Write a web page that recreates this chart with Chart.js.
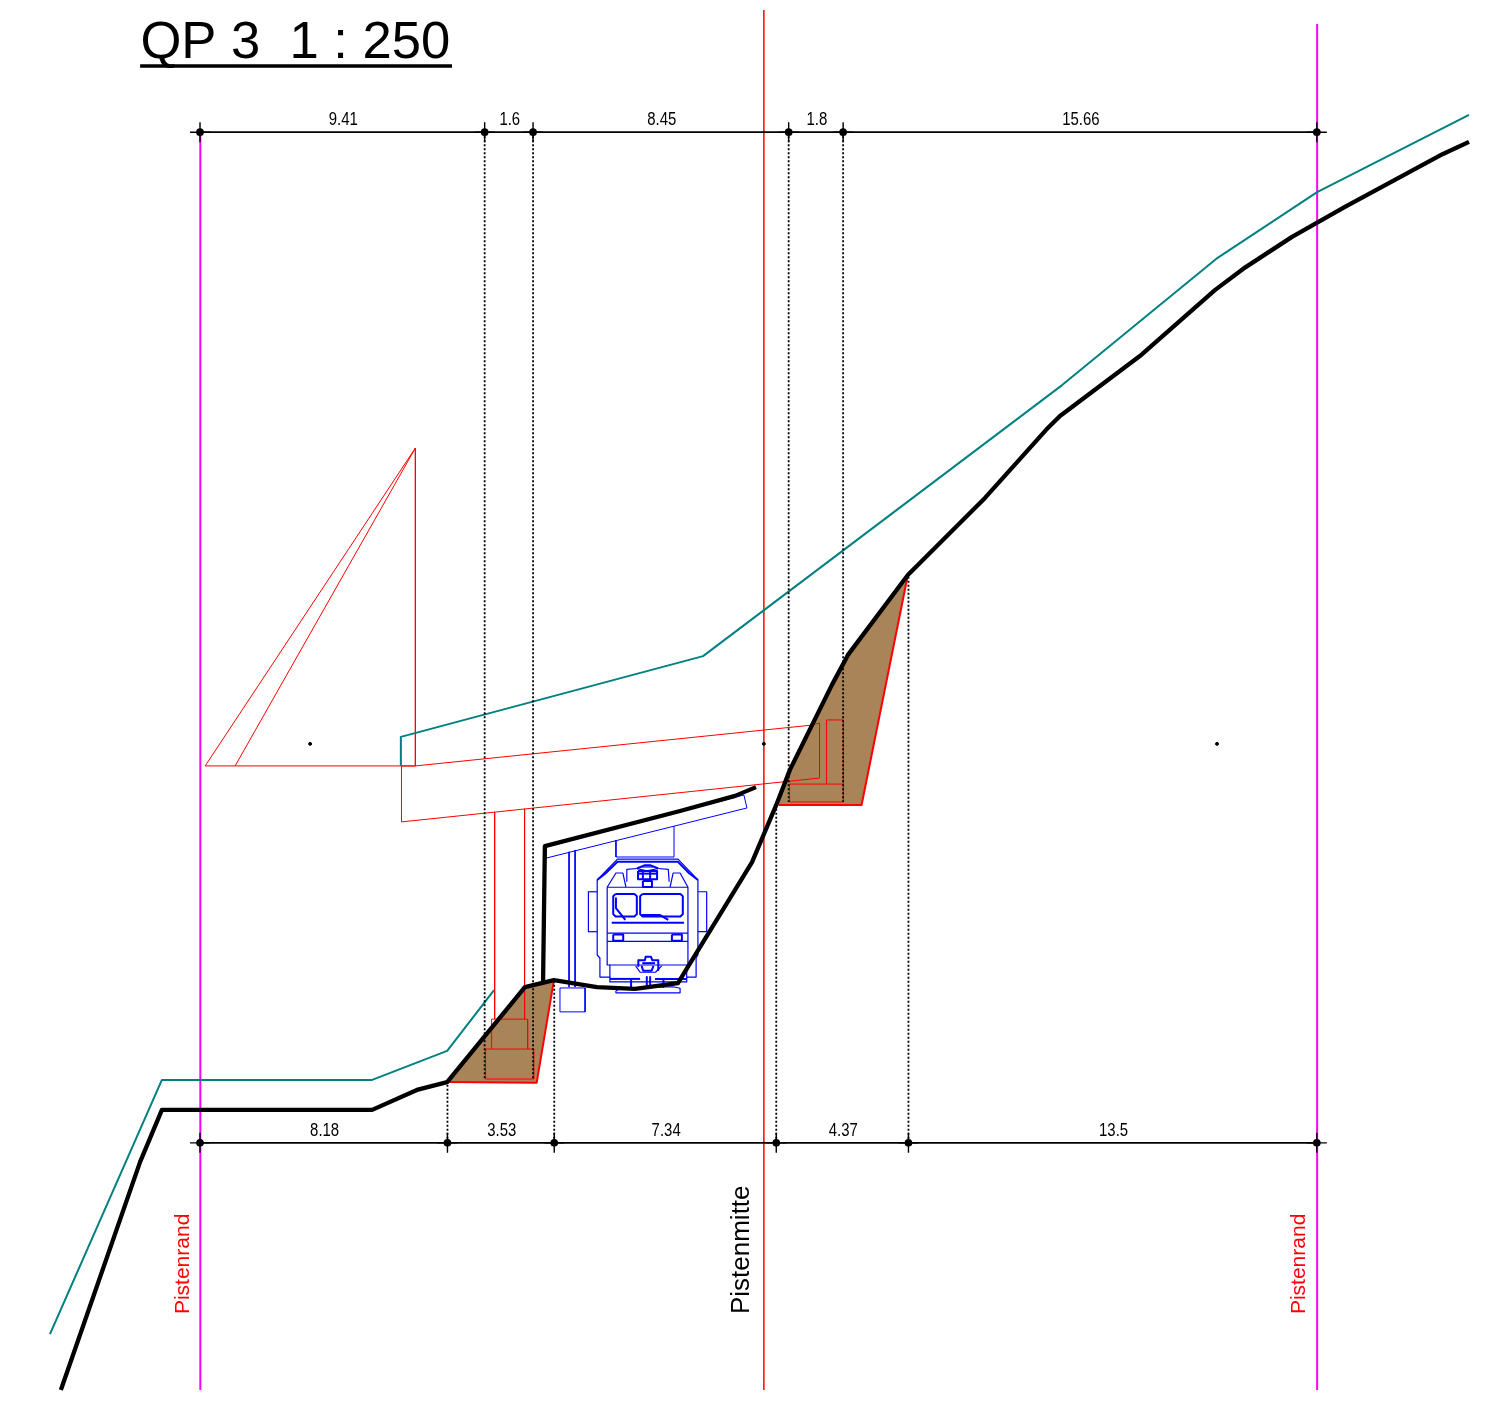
<!DOCTYPE html>
<html>
<head>
<meta charset="utf-8">
<title>QP 3</title>
<script src="https://cdn.jsdelivr.net/npm/chart.js@4/dist/chart.umd.min.js"></script>
<style>
  html, body { margin: 0; padding: 0; background: #fff; }
  canvas { display: block; }
</style>
</head>
<body>
<canvas id="profile" width="1497" height="1403"></canvas>
<script>
// all values in metres, x from left Pistenrand, y from lower edge of the section
const topDims = [9.41, 1.6, 8.45, 1.8, 15.66];
const bottomDims = [8.18, 3.53, 7.34, 4.37, 13.5];
const topDimLevel = 41.58;
const bottomDimLevel = 8.17;
// where the dotted drop lines end, one per inner dimension tick
const topDropEnds = [10.28, 10.28, 19.44, 19.44];
const bottomDropEnds = [10.18, 13.55, 19.34, 26.94];

const terrain = [[-4.60,0],[-1.98,7.54],[-1.26,9.26],[5.69,9.26],[7.17,9.92],[8.17,10.18],[10.74,13.32],[11.70,13.55],
  [13.12,13.32],[14.38,13.26],[15.80,13.45],[18.25,17.45],[19.05,19.34],[19.50,20.50],[20.89,23.31],[21.42,24.30],
  [23.40,26.94],[25.95,29.49],[27.97,31.74],[28.43,32.20],[31.07,34.18],[33.55,36.36],[34.48,37.06],[36.10,38.12],
  [37.85,39.11],[41.09,40.86],[41.95,41.26]];
const roofLine = [[11.34,13.42],[11.40,17.98],[15.87,19.14],[17.69,19.64],[18.38,19.93]];
const surfaceLower = [[-4.96,1.85],[-1.26,10.25],[5.69,10.25],[8.17,11.21],[9.72,13.22]];
const surfaceUpper = [[6.64,20.63],[6.64,21.59],[16.63,24.26],[28.50,33.22],[33.59,37.39],[36.93,39.60],[41.95,42.15]];

const fillLeft = [[8.17,10.18],[11.13,10.16],[11.70,13.55],[10.74,13.32],[8.17,10.18]];
const fillRight = [[19.13,19.34],[21.87,19.34],[23.40,26.94],[21.42,24.30],[20.89,23.31],[19.50,20.50],[19.13,19.34]];
const edgeLeft = [[8.17,10.18],[11.13,10.16],[11.70,13.55]];
const edgeRight = [[19.13,19.34],[21.87,19.34],[23.40,26.94]];

const redParts = [
  [[0.17,20.63],[7.12,31.14],[7.12,20.63],[0.17,20.63]],
  [[1.16,20.63],[7.12,31.14]],
  [[6.66,20.63],[7.12,20.63],[20.23,21.98],[20.48,22.05],[20.48,20.23],[6.66,18.78],[6.66,20.63]],
  [[9.74,19.11],[9.74,12.26]],
  [[10.73,19.21],[10.73,12.26]],
  [[9.64,11.27],[9.64,12.26],[10.83,12.26],[10.83,11.27]],
  [[9.44,11.27],[11.03,11.27],[11.03,10.28],[9.44,10.28],[9.44,11.27]],
  [[20.71,20.03],[20.71,22.15],[21.27,22.15],[21.27,19.44],[19.49,19.44],[19.49,20.03],[21.27,20.03]]
];

const galleryParts = [
  [[11.44,17.95],[17.98,19.67],[18.08,19.24],[11.47,17.59],[11.44,17.95]],
  [[13.75,18.18],[13.75,17.62],[15.67,17.62],[15.67,18.64]],
  [[12.20,17.79],[12.20,13.32]],
  [[12.40,17.85],[12.40,13.32]],
  [[11.90,13.29],[12.73,13.29],[12.73,12.50],[11.90,12.50],[11.90,13.29]]
];

const trainParts = [
  [[13.13,16.86],[13.80,17.55],[15.80,17.55],[16.46,16.86],[16.46,14.38],[16.40,14.28],[16.40,13.65],[16.09,13.65],
   [16.09,13.49],[13.55,13.49],[13.55,13.65],[13.22,13.65],[13.22,14.28],[13.13,14.38],[13.13,16.86]],
  [[12.84,16.47],[13.13,16.47]], [[12.84,15.15],[13.13,15.15]], [[12.84,16.47],[12.84,15.15]],
  [[16.46,16.47],[16.75,16.47],[16.75,15.15],[16.46,15.15]],
  [[13.46,16.62],[16.13,16.62],[16.13,14.05],[13.46,14.05],[13.46,16.62]],
  [[13.46,16.62],[13.75,17.09],[13.98,17.09],[14.08,16.62]],
  [[16.13,16.62],[15.87,17.09],[15.64,17.09],[15.54,16.62]],
  [[14.11,16.80],[14.11,17.21],[14.44,17.24]],
  [[15.15,17.24],[15.48,17.21],[15.51,16.80]],
  [[14.44,17.24],[14.77,17.16],[15.15,17.24]],
  [[14.60,17.29],[14.98,17.29]],
  [[13.46,15.10],[16.13,15.10]],
  [[13.46,14.83],[16.13,14.83]],
  [[13.55,14.05],[13.55,13.65]], [[16.09,14.05],[16.09,13.65]],
  [[14.40,14.02],[14.55,13.81],[15.06,13.81],[15.26,14.02]],
  [[13.75,13.20],[13.94,13.28],[15.64,13.33],[15.87,13.28],[15.87,13.13],[13.75,13.13],[13.75,13.20]]
];
// drawn heavier: roof edge, pantograph, window frames, wipers, coupler
const trainHeavy = [
  [[13.13,16.86],[13.41,17.08],[13.80,17.46],[15.80,17.46],[16.17,17.08],[16.46,16.86]],
  [[14.44,17.24],[14.71,17.35],[14.88,17.35],[15.15,17.24]],
  [[14.48,17.16],[15.11,17.16],[15.11,16.88],[14.48,16.88],[14.48,17.16]],
  [[14.48,17.07],[15.11,17.07]],
  [[14.64,17.16],[14.64,16.88]], [[14.88,17.16],[14.88,16.88]],
  [[14.64,16.83],[14.94,16.83],[14.94,16.63],[14.64,16.63],[14.64,16.83]],
  [[13.74,16.40],[14.36,16.40],[14.44,16.32],[14.44,15.73],[14.36,15.65],[13.74,15.65],[13.66,15.73],[13.66,16.32],[13.74,16.40]],
  [[14.63,16.40],[15.88,16.40],[15.96,16.32],[15.96,15.73],[15.88,15.65],[14.63,15.65],[14.55,15.73],[14.55,16.32],[14.63,16.40]],
  [[13.75,16.26],[13.75,15.93],[14.06,15.54]],
  [[14.60,15.70],[15.21,15.70],[15.48,15.54]],
  [[13.61,15.45],[16.00,15.45]],
  [[13.66,15.06],[13.99,15.06],[13.99,14.85],[13.66,14.85],[13.66,15.06]],
  [[15.60,15.06],[15.93,15.06],[15.93,14.85],[15.60,14.85],[15.60,15.06]],
  [[14.49,14.21],[14.71,14.21],[14.73,14.32],[14.91,14.32],[14.95,14.21],[15.15,14.21],[15.15,13.88]],
  [[14.49,14.21],[14.49,14.02]],
  [[14.62,14.11],[15.04,14.11]],
  [[14.60,14.02],[14.65,13.86],[14.93,13.86],[14.99,14.02]],
  [[13.55,13.59],[14.55,13.59]], [[15.04,13.59],[16.09,13.59]],
  [[14.25,13.59],[14.25,13.32]], [[14.77,13.65],[14.77,13.29]], [[14.88,13.65],[14.88,13.29]], [[15.32,13.59],[15.32,13.32]]
];

const pistenrandLeft = [[0.01,0],[0.01,41.58]];
const pistenrandRight = [[36.93,0],[36.93,45.16]];
const pistenmitte = [[18.64,0],[18.64,45.62]];
const refDots = [[3.64,21.36],[18.64,21.36],[33.62,21.36]];
const titleRule = [[-1.98,43.77],[8.33,43.77]];

const pts = (a) => a.map((p) => ({ x: p[0], y: p[1] }));

function line(points, color, width, extra) {
  return Object.assign({
    data: pts(points),
    showLine: true,
    borderColor: color,
    borderWidth: width,
    pointRadius: 0,
    tension: 0,
    fill: false,
    borderJoinStyle: "round",
    borderCapStyle: "butt"
  }, extra || {});
}

function ticks(dims) {
  let pos = [0];
  dims.forEach((d) => pos.push(pos[pos.length - 1] + d));
  return pos;
}

function dimSets(dims, level, ends) {
  const pos = ticks(dims);
  const marks = pos.map((x) => [x, level]);
  const sets = [
    line(marks, "#000", 1.7, { pointRadius: 3, pointBackgroundColor: "#000", pointBorderColor: "#000" }),
    {
      data: pts(marks),
      showLine: false,
      pointStyle: "cross",
      pointRadius: 10,
      pointBorderColor: "#000",
      pointBorderWidth: 1.4
    }
  ];
  ends.forEach((end, i) => {
    sets.push(line([[pos[i + 1], level], [pos[i + 1], end]], "#000", 1.8, { borderDash: [2, 2] }));
  });
  return sets;
}

const datasets = [].concat(
  [line(terrain, "#000", 4.3), line(roofLine, "#000", 4.3)],
  dimSets(topDims, topDimLevel, topDropEnds),
  dimSets(bottomDims, bottomDimLevel, bottomDropEnds),
  [{ data: pts(refDots), showLine: false, pointRadius: 1.5, pointBackgroundColor: "#000", pointBorderColor: "#000" }],
  [line(surfaceLower, "#008080", 2), line(surfaceUpper, "#008080", 2)],
  [line(pistenmitte, "#ff0000", 1.5)],
  [line(pistenrandLeft, "#ff00ff", 2), line(pistenrandRight, "#ff00ff", 2)],
  trainHeavy.map((p) => line(p, "#0000ff", 2)),
  trainParts.map((p) => line(p, "#0000ff", 1.2)),
  galleryParts.map((p) => line(p, "#0000ff", 1)),
  [line(edgeLeft, "#ff0000", 2), line(edgeRight, "#ff0000", 2)],
  redParts.map((p) => line(p, "#ff0000", 1)),
  [line(titleRule, "#000", 3.5)],
  [
    line(fillLeft, "rgba(0,0,0,0)", 0, { fill: "shape", backgroundColor: "#a98459" }),
    line(fillRight, "rgba(0,0,0,0)", 0, { fill: "shape", backgroundColor: "#a98459" })
  ]
);

const drawingText = {
  id: "drawingText",
  afterDatasetsDraw(chart) {
    const ctx = chart.ctx;
    const sx = chart.scales.x;
    const sy = chart.scales.y;

    function dimLabels(dims, baseY) {
      const pos = ticks(dims);
      dims.forEach((d, i) => {
        ctx.save();
        ctx.translate(sx.getPixelForValue((pos[i] + pos[i + 1]) / 2 + 0.03), sy.getPixelForValue(baseY));
        ctx.scale(0.83, 1);
        ctx.font = "18px 'Liberation Sans'";
        ctx.textAlign = "center";
        ctx.textBaseline = "alphabetic";
        ctx.fillStyle = "#000";
        ctx.fillText(String(d), 0, 0);
        ctx.restore();
      });
    }

    function upright(text, x, y, size, color) {
      ctx.save();
      ctx.translate(sx.getPixelForValue(x), sy.getPixelForValue(y));
      ctx.rotate(-Math.PI / 2);
      ctx.font = size + "px 'Liberation Sans'";
      ctx.textAlign = "left";
      ctx.textBaseline = "alphabetic";
      ctx.fillStyle = color;
      ctx.fillText(text, 0, 0);
      ctx.restore();
    }

    dimLabels(topDims, 41.82);
    dimLabels(bottomDims, 8.40);
    upright("Pistenrand", -0.36, 2.51, 21, "#ff0000");
    upright("Pistenrand", 36.53, 2.51, 21, "#ff0000");
    upright("Pistenmitte", 18.15, 2.51, 26, "#000");

    ctx.save();
    ctx.font = "52.6px 'Liberation Sans'";
    ctx.textAlign = "left";
    ctx.textBaseline = "alphabetic";
    ctx.fillStyle = "#000";
    ctx.fillText("QP 3  1 : 250", sx.getPixelForValue(-1.97), sy.getPixelForValue(44.04));
    ctx.restore();
  }
};

new Chart(document.getElementById("profile"), {
  type: "scatter",
  data: { datasets: datasets },
  plugins: [drawingText],
  options: {
    responsive: false,
    animation: false,
    devicePixelRatio: 1,
    layout: { padding: 0, autoPadding: false },
    events: [],
    plugins: { legend: { display: false }, tooltip: { enabled: false }, title: { display: false } },
    scales: {
      x: { type: "linear", min: -6.612, max: 42.876, display: false },
      y: { type: "linear", min: -0.43, max: 45.95, display: false }
    }
  }
});
</script>
</body>
</html>
